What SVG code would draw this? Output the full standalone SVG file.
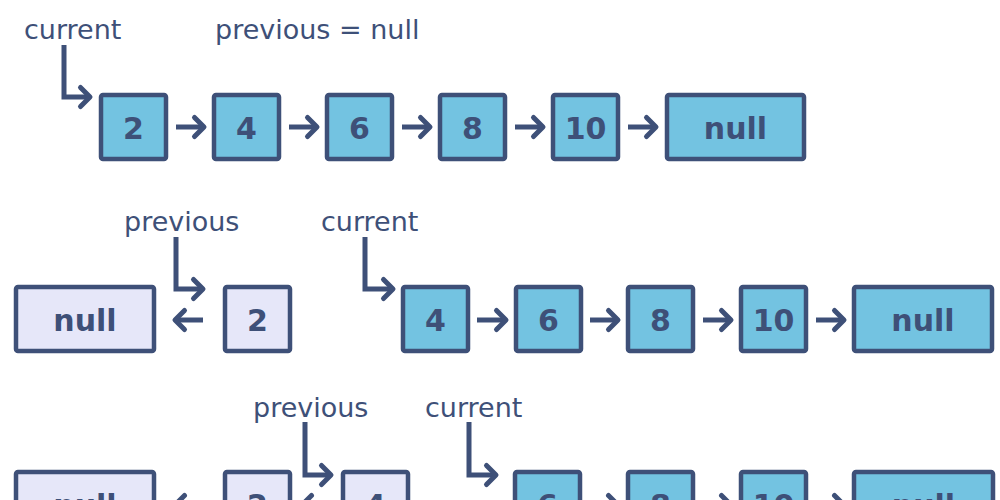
<svg xmlns="http://www.w3.org/2000/svg" width="1000" height="500" viewBox="0 0 1000 500">
<defs>
<marker id="chev" markerUnits="userSpaceOnUse" markerWidth="30" markerHeight="30" refX="-2" refY="0" orient="auto" overflow="visible">
<path d="M -9.5 -9.5 L 0 0 L -9.5 9.5" fill="none" stroke="#3e5078" stroke-width="5" stroke-linecap="round" stroke-linejoin="round"/>
</marker>
</defs>
<style>
.box rect{stroke:#3e5078;stroke-width:4.5}
.cur rect{fill:#73c3e1}
.rev rect{fill:#e6e7f9}
.box text{font-family:"DejaVu Sans",sans-serif;font-weight:bold;font-size:30px;fill:#3e5078;text-anchor:middle}
.lbl{font-family:"DejaVu Sans",sans-serif;font-size:27px;fill:#3e5078}
.conn line,.conn path{stroke:#3e5078;stroke-width:5;fill:none;marker-end:url(#chev)}
.ptr{stroke-width:4.5}
</style>
<rect width="1000" height="500" fill="#ffffff"/>

<!-- Row 1 -->
<text class="lbl" x="24" y="39">current</text>
<text class="lbl" x="215" y="39">previous = null</text>
<g id="r1n2" class="box cur"><rect x="101" y="95" width="65" height="64" rx="2"/><text x="133.5" y="139">2</text></g>
<g id="r1n4" class="box cur"><rect x="214" y="95" width="65" height="64" rx="2"/><text x="246.5" y="139">4</text></g>
<g id="r1n6" class="box cur"><rect x="327" y="95" width="65" height="64" rx="2"/><text x="359.5" y="139">6</text></g>
<g id="r1n8" class="box cur"><rect x="440" y="95" width="65" height="64" rx="2"/><text x="472.5" y="139">8</text></g>
<g id="r1n10" class="box cur"><rect x="553" y="95" width="65" height="64" rx="2"/><text x="585.5" y="139">10</text></g>
<g id="r1null" class="box cur"><rect x="667" y="95" width="137" height="64" rx="2"/><text x="735.5" y="139">null</text></g>

<!-- Row 2 -->
<text class="lbl" x="124" y="231">previous</text>
<text class="lbl" x="321" y="231">current</text>
<g id="r2null" class="box rev"><rect x="16" y="287" width="138" height="64" rx="2"/><text x="85" y="331">null</text></g>
<g id="r2n2" class="box rev"><rect x="225" y="287" width="65" height="64" rx="2"/><text x="257.5" y="331">2</text></g>
<g id="r2n4" class="box cur"><rect x="403" y="287" width="65" height="64" rx="2"/><text x="435.5" y="331">4</text></g>
<g id="r2n6" class="box cur"><rect x="516" y="287" width="65" height="64" rx="2"/><text x="548.5" y="331">6</text></g>
<g id="r2n8" class="box cur"><rect x="628" y="287" width="65" height="64" rx="2"/><text x="660.5" y="331">8</text></g>
<g id="r2n10" class="box cur"><rect x="741" y="287" width="65" height="64" rx="2"/><text x="773.5" y="331">10</text></g>
<g id="r2null2" class="box cur"><rect x="854" y="287" width="138" height="64" rx="2"/><text x="923" y="331">null</text></g>

<!-- Row 3 -->
<text class="lbl" x="253" y="417">previous</text>
<text class="lbl" x="425" y="417">current</text>
<g id="r3null" class="box rev"><rect x="16" y="472" width="138" height="64" rx="2"/><text x="85" y="516">null</text></g>
<g id="r3n2" class="box rev"><rect x="225" y="472" width="65" height="64" rx="2"/><text x="257.5" y="516">2</text></g>
<g id="r3n4" class="box rev"><rect x="343" y="472" width="65" height="64" rx="2"/><text x="375.5" y="516">4</text></g>
<g id="r3n6" class="box cur"><rect x="515" y="472" width="65" height="64" rx="2"/><text x="547.5" y="516">6</text></g>
<g id="r3n8" class="box cur"><rect x="628" y="472" width="65" height="64" rx="2"/><text x="660.5" y="516">8</text></g>
<g id="r3n10" class="box cur"><rect x="741" y="472" width="65" height="64" rx="2"/><text x="773.5" y="516">10</text></g>
<g id="r3null2" class="box cur"><rect x="854" y="472" width="139" height="64" rx="2"/><text x="923.5" y="516">null</text></g>

<g id="connectors" class="conn">
<!-- row 1 -->
<path class="ptr" d="M 64 45 L 64 97 L 88 97"/>
<line x1="176" y1="127" x2="202" y2="127"/>
<line x1="289" y1="127" x2="315" y2="127"/>
<line x1="402" y1="127" x2="428" y2="127"/>
<line x1="515" y1="127" x2="541" y2="127"/>
<line x1="628" y1="127" x2="654" y2="127"/>
<!-- row 2 -->
<path class="ptr" d="M 176 237 L 176 289 L 201 289"/>
<path class="ptr" d="M 365 237 L 365 289 L 391 289"/>
<line x1="203" y1="320" x2="177" y2="320"/>
<line x1="477" y1="320" x2="504" y2="320"/>
<line x1="590" y1="320" x2="616" y2="320"/>
<line x1="703" y1="320" x2="729" y2="320"/>
<line x1="816" y1="320" x2="842" y2="320"/>
<!-- row 3 -->
<path class="ptr" d="M 305 422 L 305 475 L 329 475"/>
<path class="ptr" d="M 469 422 L 469 475 L 494 475"/>
<line x1="203" y1="505" x2="177" y2="505"/>
<line x1="330" y1="505" x2="304" y2="505"/>
<line x1="590" y1="505" x2="616" y2="505"/>
<line x1="703" y1="505" x2="729" y2="505"/>
<line x1="816" y1="505" x2="842" y2="505"/>
</g>
</svg>
